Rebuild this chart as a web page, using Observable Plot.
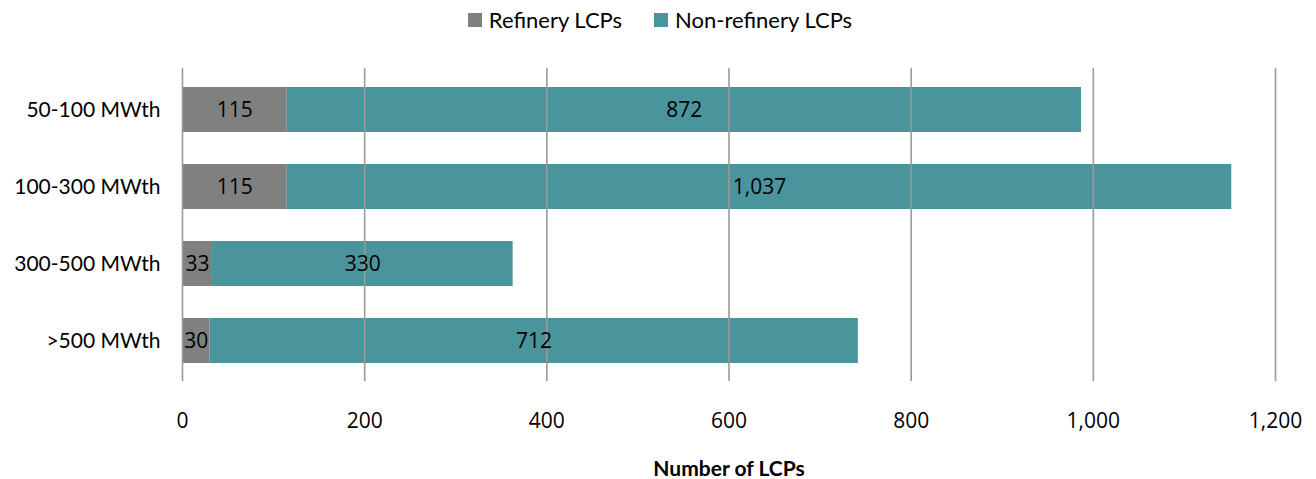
<!DOCTYPE html>
<html>
<head>
<meta charset="utf-8">
<script src="https://cdn.jsdelivr.net/npm/d3@7"></script>
<script src="https://cdn.jsdelivr.net/npm/@observablehq/plot@0.6"></script>
<style>
  body { margin: 0; background: #fff; }
  #wrap { position: relative; width: 1316px; height: 479px; overflow: hidden; background: #fff; }
  #legend { position: absolute; z-index: 2; top: 6px; left: 0; width: 1316px; display: flex; justify-content: center; font-family: Lato, sans-serif; font-size: 22px; color: #000; padding-left: 4px; box-sizing: border-box; }
  .item { display: flex; align-items: center; margin: 0 16px; }
  .sw { width: 14px; height: 14px; margin-right: 7px; }
  #chart { position: absolute; top: 0; left: 0; z-index: 1; }
</style>
</head>
<body>
<div id="wrap">
  <div id="legend"></div>
  <div id="chart"></div>
</div>
<script>
const categories = ["50-100 MWth", "100-300 MWth", "300-500 MWth", ">500 MWth"];
const seriesNames = ["Refinery LCPs", "Non-refinery LCPs"];
const refinery = [115, 115, 33, 30];
const nonRefinery = [872, 1037, 330, 712];
const xTicks = [0, 200, 400, 600, 800, 1000, 1200];
const colors = ["#808080", "#4A949B"];

const data = [];
categories.forEach((c, i) => {
  data.push({cat: c, series: seriesNames[0], value: refinery[i]});
  data.push({cat: c, series: seriesNames[1], value: nonRefinery[i]});
});

const fmt = d3.format(",");

const legend = document.getElementById("legend");
seriesNames.forEach((s, i) => {
  const it = document.createElement("div");
  it.className = "item";
  it.innerHTML = `<span class="sw" style="background:${colors[i]}"></span><span>${s}</span>`;
  legend.appendChild(it);
});

const chart = Plot.plot({
  width: 1316,
  height: 479,
  marginTop: 68,
  marginBottom: 98,
  marginLeft: 182,
  marginRight: 41,
  style: {fontFamily: "'Open Sans', sans-serif", fontSize: "20px", color: "#000", background: "transparent"},
  x: {domain: [0, 1200], ticks: xTicks},
  y: {domain: categories, paddingInner: 0.42, paddingOuter: 0.22},
  color: {domain: seriesNames, range: colors},
  marks: [
    Plot.barX(data, Plot.stackX({x: "value", y: "cat", fill: "series", order: seriesNames})),
    Plot.gridX(xTicks, {stroke: "#999", strokeOpacity: 1, strokeWidth: 1.6}),
    Plot.text(data, Plot.stackX({x: "value", y: "cat", z: "series", order: seriesNames, text: d => fmt(d.value), fill: "#000", fontSize: 21})),
    Plot.axisX(xTicks, {tickSize: 0, tickPadding: 32, tickFormat: fmt, fontSize: 21, label: "Number of LCPs", labelAnchor: "center", labelOffset: 94, labelArrow: "none"}),
    Plot.axisY({tickSize: 0, tickPadding: 22, fontFamily: "Lato, sans-serif", fontSize: 21, label: null})
  ]
});
document.getElementById("chart").appendChild(chart);
chart.querySelectorAll("text").forEach(t => {
  if (t.textContent.trim() === "Number of LCPs") { t.setAttribute("font-weight", "bold"); t.setAttribute("font-size", "21"); t.setAttribute("font-family", "Lato, sans-serif"); }
});
</script>
</body>
</html>
